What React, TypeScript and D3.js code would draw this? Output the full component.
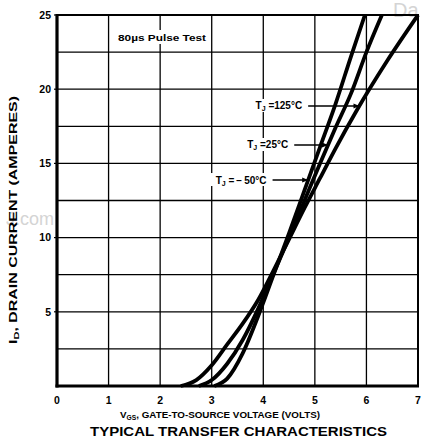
import React from "react";
import * as d3 from "d3";

// ---- data ----
const xTicks = [0, 1, 2, 3, 4, 5, 6, 7];
const yTickLabels = [5, 10, 15, 20, 25];
const yGrid = [2.5, 5, 7.5, 10, 12.5, 15, 17.5, 20, 22.5];
const xGrid = [1, 2, 3, 4, 5, 6];

const vgs125 = [2.4, 2.7, 3.0, 3.3, 3.6, 3.9, 4.2, 4.5, 4.8, 5.1, 5.4, 5.8, 6.4, 7.0];
const id125 = [0, 0.4, 1.4, 2.8, 4.2, 5.8, 7.8, 9.9, 12.0, 14.0, 16.0, 18.5, 21.9, 25];
const vgs25 = [2.75, 3.0, 3.3, 3.6, 3.9, 4.2, 4.5, 4.8, 5.1, 5.4, 5.7, 6.0, 6.3];
const id25 = [0, 0.4, 1.5, 3.1, 5.2, 7.6, 10.0, 12.5, 15.0, 17.4, 19.7, 22.5, 25];
const vgsM50 = [3.05, 3.3, 3.6, 3.9, 4.2, 4.5, 4.8, 5.1, 5.4, 5.7, 5.97];
const idM50 = [0, 0.5, 2.2, 4.7, 7.5, 10.3, 13.2, 16.1, 19.0, 22.2, 25];

const annTemps = ["=125°C", "=25°C", "=\u2009\u2212\u200950°C"];
const annCurrent = [18.87, 16.24, 13.88];
const annLineStartV = [4.87, 4.6, 4.18];

const W = 422;
const H = 445;
const font = "'Liberation Sans', Arial, Helvetica, sans-serif";

function interpV(vs: number[], is: number[], I: number) {
  for (let k = 0; k < is.length - 1; k++) {
    if (I >= is[k] && I <= is[k + 1]) {
      const t = (I - is[k]) / (is[k + 1] - is[k]);
      return vs[k] + t * (vs[k + 1] - vs[k]);
    }
  }
  return vs[vs.length - 1];
}

export default function App() {
  const x = d3.scaleLinear().domain([0, 7]).range([57, 418]);
  const y = d3.scaleLinear().domain([0, 25]).range([386, 15]);

  const curves = [
    { v: vgs125, i: id125 },
    { v: vgs25, i: id25 },
    { v: vgsM50, i: idM50 },
  ];
  const line = d3
    .line<[number, number]>()
    .x((d) => x(d[0]))
    .y((d) => y(d[1]))
    .curve(d3.curveMonotoneX);

  return (
    <svg
      width={W}
      height={H}
      style={{ position: "absolute", left: 0, top: 0, background: "#fff" }}
      fontFamily={font}
    >
      <rect x={0} y={0} width={W} height={H} fill="#fff" />
      {/* watermark fragments */}
      <text x={393} y={17} fontSize={20} fill="#d4d4d4" fontFamily={font}>Da</text>
      <text x={6} y={225} fontSize={18} fill="#d4d4d4" fontFamily={font}>J.com</text>

      {/* grid */}
      <g stroke="#000" strokeWidth={1.3}>
        {xGrid.map((v) => (
          <line key={"vx" + v} x1={x(v)} x2={x(v)} y1={y(0)} y2={y(25)} />
        ))}
        {yGrid.map((v) => (
          <line key={"hy" + v} x1={x(0)} x2={x(7)} y1={y(v)} y2={y(v)} />
        ))}
      </g>

      {/* pulse test note */}
      <rect x={114} y={30} width={96} height={14} fill="#fff" />
      <text x={118} y={41} fontSize={9} fontWeight="bold" textLength={88} lengthAdjust="spacingAndGlyphs">
        80µs Pulse Test
      </text>

      {/* curves */}
      <g fill="none" stroke="#000" strokeWidth={3.8} strokeLinecap="butt">
        {curves.map((c, k) => (
          <path key={k} d={line(c.v.map((v, j) => [v, c.i[j]] as [number, number])) || ""} />
        ))}
      </g>

      {/* annotations */}
      {annTemps.map((t, k) => {
        const yy = y(annCurrent[k]);
        const xs = x(annLineStartV[k]);
        const xe = x(interpV(curves[k].v, curves[k].i, annCurrent[k]));
        return (
          <g key={"a" + k}>
            <rect x={xs - 62} y={yy - 7} width={62 + 2} height={13} fill="#fff" />
            <line x1={xs} x2={xe} y1={yy} y2={yy} stroke="#000" strokeWidth={1.6} />
            <path d={`M${xe},${yy} l-6,-2.5 l0,5 z`} fill="#000" />
            <text x={xs - 6} y={yy + 3.5} fontSize={10} fontWeight="bold" textAnchor="end">
              <tspan>T</tspan>
              <tspan fontSize={7} dy={2}>J</tspan>
              <tspan dy={-2}>{" " + t}</tspan>
            </text>
          </g>
        );
      })}

      {/* border */}
      <rect x={x(0)} y={y(25)} width={x(7) - x(0)} height={y(0) - y(25)} fill="none" stroke="#000" strokeWidth={2} />
      <line x1={x(0)} x2={x(0)} y1={y(0) + 1.5} y2={y(25) - 1} stroke="#000" strokeWidth={3.2} />
      <line x1={x(0) - 1.5} x2={x(7) + 1} y1={y(0)} y2={y(0)} stroke="#000" strokeWidth={3.2} />

      {/* y ticks */}
      {yTickLabels.map((v) => (
        <g key={"yt" + v}>
          <line x1={x(0) - 3} x2={x(0)} y1={y(v)} y2={y(v)} stroke="#000" strokeWidth={1.2} />
          <text x={x(0) - 6} y={y(v) + 3.8} fontSize={10.5} fontWeight="bold" textAnchor="end">
            {v}
          </text>
        </g>
      ))}
      {/* x ticks */}
      {xTicks.map((v) => (
        <text key={"xt" + v} x={x(v)} y={404} fontSize={10.5} fontWeight="bold" textAnchor="middle">
          {v}
        </text>
      ))}

      {/* axis titles */}
      <text x={120} y={418} fontSize={9.5} fontWeight="bold" textLength={200} lengthAdjust="spacingAndGlyphs">
        <tspan>V</tspan>
        <tspan fontSize={6.5} dy={2}>GS</tspan>
        <tspan dy={-2}>, GATE-TO-SOURCE VOLTAGE (VOLTS)</tspan>
      </text>
      <text x={90} y={436} fontSize={13.5} fontWeight="bold" textLength={297} lengthAdjust="spacingAndGlyphs">
        TYPICAL TRANSFER CHARACTERISTICS
      </text>
      <text
        transform={`translate(17,344) rotate(-90)`}
        fontSize={10}
        fontWeight="bold"
        textLength={248}
        lengthAdjust="spacingAndGlyphs"
      >
        <tspan>I</tspan>
        <tspan fontSize={7} dy={2}>D</tspan>
        <tspan dy={-2}>, DRAIN CURRENT (AMPERES)</tspan>
      </text>
    </svg>
  );
}
